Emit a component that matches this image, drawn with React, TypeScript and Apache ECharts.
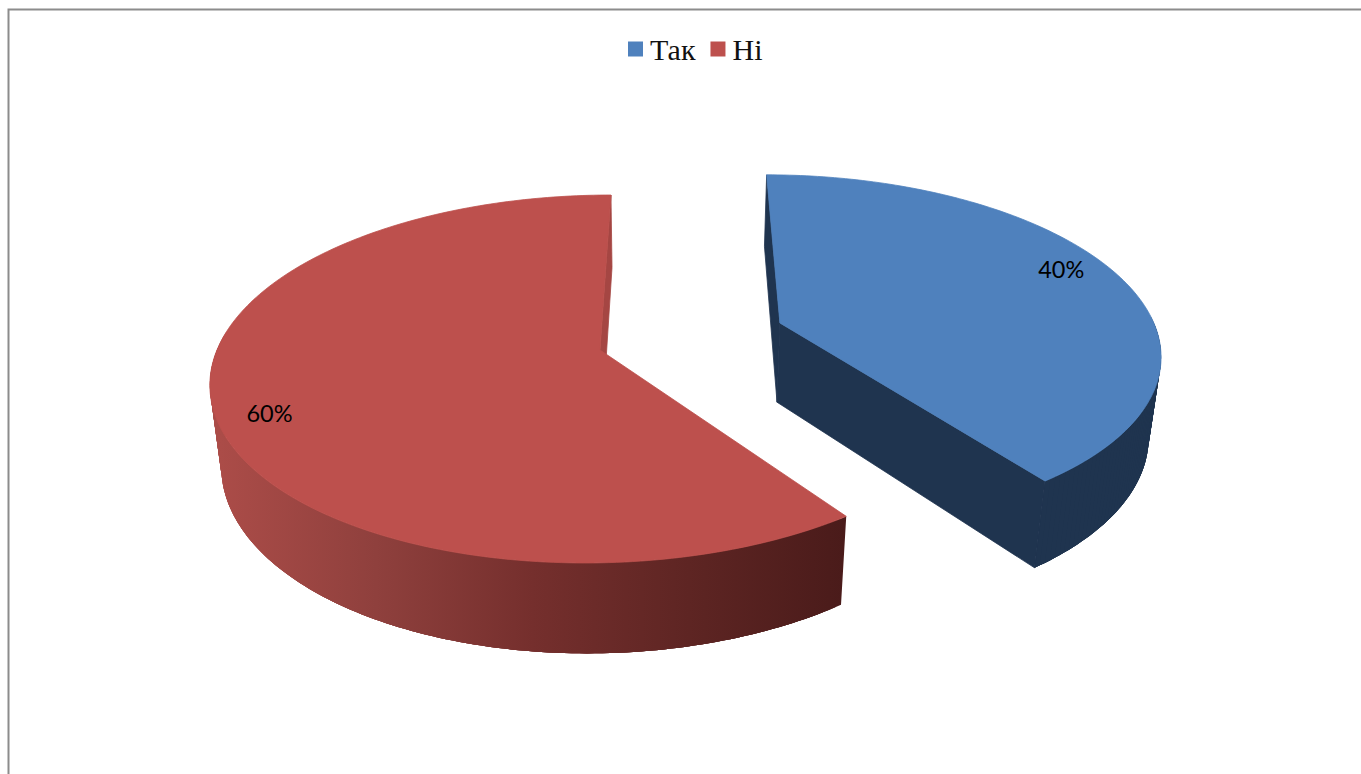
import React, { useEffect, useRef } from "react";
import * as echarts from "echarts";

const categories = ["Так", "Ні"];
const shares = [40, 60];
const topColors = ["#4f81bd", "#bd504d"];

const total = shares.reduce((a, b) => a + b, 0);
const rad = (d: number) => (d * Math.PI) / 180;

// Perspective of the tilted pie
const CX = 600, CY = 350, A = 179.4, B = 0.1576, C = 383, S = 12.7;
const OFFSETS = [[0.476, 0.154], [0, 0]];

function topPoint(X: number, Y: number) {
  const w = 1 + B * Y;
  return [CX + (C * X + S * Y) / w, CY - (A * Y) / w];
}
function bottomPoint(X: number, Y: number) {
  const w = 1 + B * Y;
  const p = topPoint(X, Y);
  return [p[0] + ((660 - p[0]) * 0.0245) / w, p[1] + 80.5 / (1 + 0.11 * Y)];
}
function arc(fn: typeof topPoint, ox: number, oy: number, from: number, to: number) {
  const out: number[][] = [];
  const n = Math.max(2, Math.ceil(to - from));
  for (let i = 0; i <= n; i++) {
    const t = rad(from + ((to - from) * i) / n);
    out.push(fn(ox + Math.sin(t), oy + Math.cos(t)));
  }
  return out;
}

const redWall = new echarts.graphic.LinearGradient(
  220, 0, 845, 0,
  [
    { offset: 0, color: "#ab4c48" },
    { offset: 0.25, color: "#8f403d" },
    { offset: 0.5, color: "#752f2d" },
    { offset: 0.75, color: "#5e2523" },
    { offset: 1, color: "#4a1b1a" },
  ],
  true
);
const sideFills: any[] = ["#1f344f", redWall];
const cutFills = ["#1f344f", "#a54643"];

function renderSlice(sliceIndex: number) {
  return (_params: any, api: any) => {
    const value = api.value(0);
    const before = shares.slice(0, sliceIndex).reduce((a, b) => a + b, 0);
    const from = (before / total) * 360;
    const to = from + (value / total) * 360;
    const [ox, oy] = OFFSETS[sliceIndex];
    const topArc = arc(topPoint, ox, oy, from, to);
    const botArc = arc(bottomPoint, ox, oy, from, to);
    const apexT = topPoint(ox, oy);
    const apexB = bottomPoint(ox, oy);
    const mid = rad((from + to) / 2 - 4.4);
    const lp = topPoint(ox + 0.87 * Math.sin(mid), oy + 0.87 * Math.cos(mid));
    const poly = (points: number[][], fill: any, stroke: any = null) => ({
      type: "polygon",
      shape: { points },
      style: { fill, stroke, lineWidth: 0.8 },
      silent: true,
    });
    const n = topArc.length - 1;
    const side = sideFills[sliceIndex];
    // front-facing part of the rim, as overlapping strips so that no seam shows
    const quads = [];
    for (let i = 0; i < n; i++) {
      const t = rad(from + ((to - from) * i) / n);
      if (Math.cos(t) > 0.05) continue;
      const j = Math.min(n, i + 4);
      quads.push(
        poly([...topArc.slice(i, j + 1), ...botArc.slice(i, j + 1).reverse()], side)
      );
    }
    const cut = cutFills[sliceIndex];
    const walls = [poly([apexT, topArc[n], botArc[n], apexB], cut, cut)];
    if (from < 90) walls.push(poly([apexT, topArc[0], botArc[0], apexB], cut, cut));
    return {
      type: "group",
      children: [
        ...quads,
        ...walls,
        poly([apexT, ...topArc], topColors[sliceIndex], topColors[sliceIndex]),
        {
          type: "text",
          x: lp[0] - (sliceIndex === 1 ? 1 : 0),
          y: lp[1],
          silent: true,
          style: {
            text: `${Math.round((value / total) * 100)}%`,
            fontFamily: "Lato",
            fontSize: 23.5,
            fill: "#000000",
            align: "center",
            verticalAlign: "middle",
          },
        },
      ],
    };
  };
}

export default function App() {
  const ref = useRef<HTMLDivElement>(null);
  useEffect(() => {
    document.body.style.margin = "0";
    const chart = echarts.init(ref.current!, undefined, { renderer: "svg" });
    chart.setOption({
      animation: false,
      backgroundColor: "#ffffff",
      legend: {
        data: categories,
        left: 628,
        top: 34,
        padding: 0,
        icon: "rect",
        itemWidth: 15,
        itemHeight: 15,
        itemGap: 15,
        selectedMode: false,
        textStyle: { fontFamily: "Liberation Serif", fontSize: 30, color: "#111111", padding: [0, 0, 0, 2] },
      },
      graphic: [
        {
          type: "rect",
          shape: { x: 8.5, y: 9.5, width: 1400, height: 800 },
          style: { fill: "none", stroke: "#8c8c8c", lineWidth: 2 },
          silent: true,
          z: -1,
        },
      ],
      series: categories.map((name, i) => ({
        type: "custom",
        name,
        coordinateSystem: "none",
        itemStyle: { color: topColors[i] },
        data: [[shares[i]]],
        renderItem: renderSlice(i),
      })),
    });
    return () => chart.dispose();
  }, []);
  return <div ref={ref} style={{ position: "fixed", left: 0, top: 0, width: 1361, height: 774 }} />;
}
